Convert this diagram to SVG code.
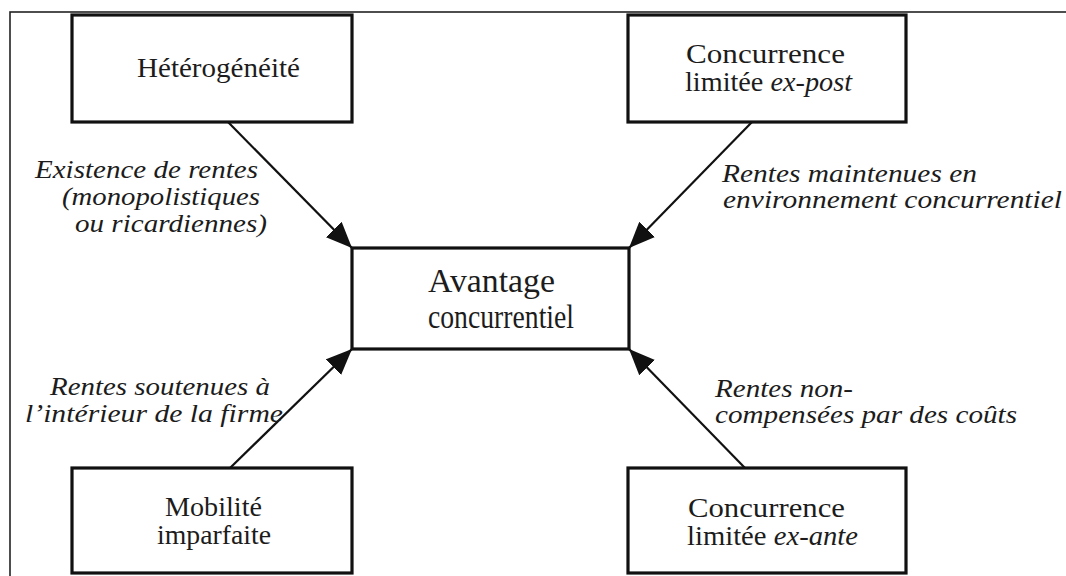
<svg xmlns="http://www.w3.org/2000/svg" width="1066" height="576" viewBox="0 0 1066 576">
<style>
.box{fill:#fff;stroke:#111;stroke-width:3.2}
.frame{fill:#fff;stroke:#222;stroke-width:1.6}
.t{font-family:"Liberation Serif","Times New Roman",serif;fill:#1c1c1c;text-anchor:start}
.n{font-size:27px}
.c{font-size:33px}
.l{font-size:25px;font-style:italic}
.conn{stroke:#111;stroke-width:2.2;fill:none;marker-end:url(#ah)}
</style>
<defs>
<marker id="ah" viewBox="0 0 26 22" refX="26" refY="11" markerWidth="26" markerHeight="22" markerUnits="userSpaceOnUse" orient="auto">
<path d="M0,0 L26,11 L0,22 z" fill="#111"/>
</marker>
</defs>
<rect class="frame" x="10" y="12" width="1070" height="600"/>
<g id="connectors">
<line class="conn" x1="228" y1="122" x2="352" y2="248"/>
<line class="conn" x1="752" y1="122" x2="629" y2="248"/>
<line class="conn" x1="230" y1="468" x2="352" y2="349"/>
<line class="conn" x1="745" y1="468" x2="629" y2="349"/>
</g>
<g id="labels">
<text class="t l" x="35" y="178" textLength="223" lengthAdjust="spacingAndGlyphs">Existence de rentes</text>
<text class="t l" x="62" y="205" textLength="198" lengthAdjust="spacingAndGlyphs">(monopolistiques</text>
<text class="t l" x="75" y="232" textLength="192" lengthAdjust="spacingAndGlyphs">ou ricardiennes)</text>
<text class="t l" x="722" y="182" textLength="255" lengthAdjust="spacingAndGlyphs">Rentes maintenues en</text>
<text class="t l" x="723" y="208" textLength="339" lengthAdjust="spacingAndGlyphs">environnement concurrentiel</text>
<text class="t l" x="50" y="395" textLength="220" lengthAdjust="spacingAndGlyphs">Rentes soutenues à</text>
<text class="t l" x="25" y="422" textLength="258" lengthAdjust="spacingAndGlyphs">l’intérieur de la firme</text>
<text class="t l" x="715" y="397" textLength="138" lengthAdjust="spacingAndGlyphs">Rentes non-</text>
<text class="t l" x="715" y="423" textLength="302" lengthAdjust="spacingAndGlyphs">compensées par des coûts</text>
</g>
<g id="heterogeneite">
<rect class="box" x="72" y="15" width="280" height="107"/>
<text class="t n" x="137" y="77" textLength="163" lengthAdjust="spacingAndGlyphs">Hétérogénéité</text>
</g>
<g id="concurrence-expost">
<rect class="box" x="628" y="15" width="278" height="107"/>
<text class="t n" x="686" y="63" textLength="159" lengthAdjust="spacingAndGlyphs">Concurrence</text>
<text class="t n" x="685" y="91" textLength="167" lengthAdjust="spacingAndGlyphs">limitée <tspan font-style="italic">ex-post</tspan></text>
</g>
<g id="avantage">
<rect class="box" x="352" y="248" width="277" height="101"/>
<text class="t c" x="428" y="292" textLength="127" lengthAdjust="spacingAndGlyphs">Avantage</text>
<text class="t c" x="428" y="328" textLength="146" lengthAdjust="spacingAndGlyphs">concurrentiel</text>
</g>
<g id="mobilite">
<rect class="box" x="72" y="468" width="280" height="105"/>
<text class="t n" x="165" y="516" textLength="97" lengthAdjust="spacingAndGlyphs">Mobilité</text>
<text class="t n" x="157" y="544" textLength="114" lengthAdjust="spacingAndGlyphs">imparfaite</text>
</g>
<g id="concurrence-exante">
<rect class="box" x="628" y="468" width="278" height="105"/>
<text class="t n" x="688" y="517" textLength="157" lengthAdjust="spacingAndGlyphs">Concurrence</text>
<text class="t n" x="687" y="545" textLength="171" lengthAdjust="spacingAndGlyphs">limitée <tspan font-style="italic">ex-ante</tspan></text>
</g>
</svg>
